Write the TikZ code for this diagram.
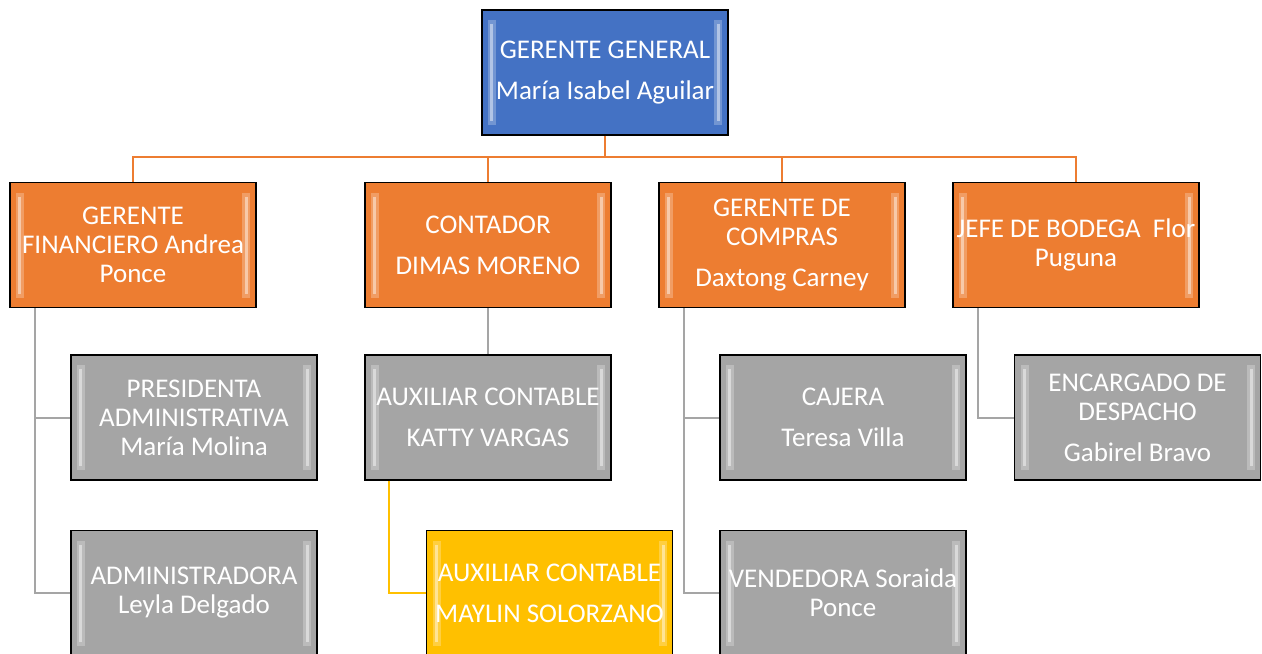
\documentclass[tikz,border=0pt]{standalone}
\usepackage{fontspec}
\setmainfont{Carlito}
\definecolor{azul}{HTML}{4472C4}
\definecolor{naranja}{HTML}{ED7D31}
\definecolor{gris}{HTML}{A5A5A5}
\definecolor{oro}{HTML}{FFC000}

\tikzset{
  cargo/.style = {shape=rectangle, draw=black, line width=0.7pt,
    align=center, text=white, inner sep=0pt,
    minimum width=123pt, minimum height=62.5pt,
    font=\fontsize{13.5}{14.5}\selectfont,
    path picture={
      \fill[white,opacity=0.25] ([xshift=3pt,yshift=5pt]path picture bounding box.south west)
        rectangle ([xshift=7pt,yshift=-5pt]path picture bounding box.north west);
      \fill[white,opacity=0.45] ([xshift=4pt,yshift=7pt]path picture bounding box.south west)
        rectangle ([xshift=5.5pt,yshift=-7pt]path picture bounding box.north west);
      \fill[white,opacity=0.25] ([xshift=-7pt,yshift=5pt]path picture bounding box.south east)
        rectangle ([xshift=-3pt,yshift=-5pt]path picture bounding box.north east);
      \fill[white,opacity=0.45] ([xshift=-5.5pt,yshift=7pt]path picture bounding box.south east)
        rectangle ([xshift=-4pt,yshift=-7pt]path picture bounding box.north east);
    }},
  jefe/.style = {cargo, fill=azul},
  area/.style = {cargo, fill=naranja},
  apoyo/.style = {cargo, fill=gris},
  asistente/.style = {cargo, fill=oro},
  linea/.style = {line width=1pt, draw=#1}
}

\begin{document}
\begin{tikzpicture}[x=0.5pt, y=-0.5pt]
    \useasboundingbox (0,0) rectangle (1262,653);
    \clip (0,0) rectangle (1262,653);

    % nivel 1
    \node[jefe] (gg) at (605,72.5) {GERENTE GENERAL\\[6pt]María Isabel Aguilar};

    % nivel 2
    \node[area] (gf) at (133,245) {GERENTE\\FINANCIERO Andrea\\Ponce};
    \node[area] (con) at (488,245) {CONTADOR\\[6pt]DIMAS MORENO};
    \node[area] (gc) at (782,245) {GERENTE DE\\COMPRAS\\[6pt]Daxtong Carney};
    \node[area] (jb) at (1076,245) {JEFE DE BODEGA\ \ Flor\\Puguna};

    % nivel 3
    \node[apoyo] (pa) at (194,417.5) {PRESIDENTA\\ADMINISTRATIVA\\María Molina};
    \node[apoyo] (ad) at (194,593) {ADMINISTRADORA\\Leyla Delgado};
    \node[apoyo] (ak) at (488,417.5) {AUXILIAR CONTABLE\\[6pt]KATTY VARGAS};
    \node[asistente] (am) at (549.5,593) {AUXILIAR CONTABLE\\[6pt]MAYLIN SOLORZANO};
    \node[apoyo] (ca) at (843,417.5) {CAJERA\\[6pt]Teresa Villa};
    \node[apoyo] (ve) at (843,593) {VENDEDORA Soraida\\Ponce};
    \node[apoyo] (ed) at (1137.5,417.5) {ENCARGADO DE\\DESPACHO\\[6pt]Gabirel Bravo};

    % conectores
    \coordinate (bus) at (605,157);
    \draw[linea=naranja] (gg) -- (bus);
    \draw[linea=naranja] (bus) -| (gf);
    \draw[linea=naranja] (bus) -| (con);
    \draw[linea=naranja] (bus) -| (gc);
    \draw[linea=naranja] (bus) -| (jb);

    \draw[linea=gris] ([xshift=13pt]gf.south west) |- (pa.west);
    \draw[linea=gris] ([xshift=13pt]gf.south west) |- (ad.west);
    \draw[linea=gris] (con) -- (ak);
    \draw[linea=oro] ([xshift=12.5pt]ak.south west) |- (am.west);
    \draw[linea=gris] ([xshift=13pt]gc.south west) |- (ca.west);
    \draw[linea=gris] ([xshift=13pt]gc.south west) |- (ve.west);
    \draw[linea=gris] ([xshift=13pt]jb.south west) |- (ed.west);
\end{tikzpicture}
\end{document}
